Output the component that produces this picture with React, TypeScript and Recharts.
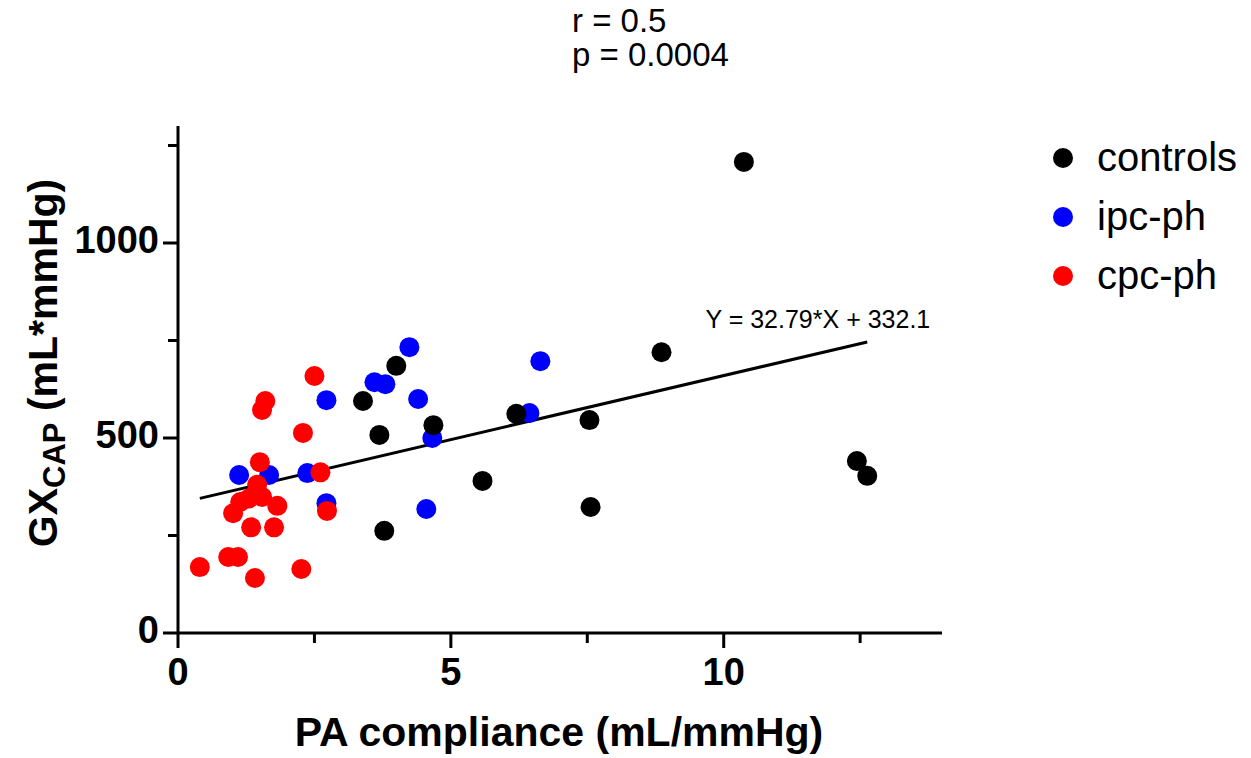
import React from 'react';
import { ScatterChart, Scatter, XAxis, YAxis, ReferenceLine, ReferenceDot, Legend } from 'recharts';

const FONT = '"Liberation Sans", Arial, Helvetica, sans-serif';

const controlsX = [10.37, 8.86, 3.39, 4.0, 3.69, 4.68, 6.2, 7.54, 5.58, 7.56, 3.78, 12.44, 12.63];
const controlsY = [1208, 720, 595, 685, 508, 533, 562, 546, 390, 323, 262, 441, 403];

const ipcX = [1.12, 1.67, 2.37, 2.72, 2.72, 3.6, 3.8, 4.24, 4.4, 4.66, 4.55, 6.44, 6.64];
const ipcY = [405, 405, 410, 333, 597, 643, 638, 733, 600, 500, 318, 564, 697];

const cpcX = [0.4, 0.92, 1.1, 1.41, 2.26, 1.01, 1.34, 1.76, 1.14, 1.3, 1.54, 1.82, 1.45, 1.5, 1.54, 1.6, 2.29, 2.5, 2.61, 2.73];
const cpcY = [169, 195, 195, 141, 164, 307, 271, 271, 336, 345, 349, 326, 380, 438, 572, 595, 513, 659, 412, 313];

const seriesNames = ['controls', 'ipc-ph', 'cpc-ph'];
const seriesColors = ['#000000', '#0000ff', '#ff0000'];

const xTicks = [0, 2.5, 5, 7.5, 10, 12.5];
const yTicks = [0, 250, 500, 750, 1000, 1250];
const xDomain = [0, 14];
const yDomain = [0, 1300];

const slope = 32.79;
const intercept = 332.1;
const equationLabel = 'Y = 32.79*X + 332.1';
const rLabel = 'r = 0.5';
const pLabel = 'p = 0.0004';

const toPoints = (xs: number[], ys: number[]) => xs.map((x, i) => ({ x, y: ys[i] }));
const controls = toPoints(controlsX, controlsY);
const ipc = toPoints(ipcX, ipcY);
const cpc = toPoints(cpcX, cpcY);

const allX = [...controlsX, ...ipcX, ...cpcX];
const xMin = Math.min(...allX);
const xMax = Math.max(...allX);

const dot = (color: string) => (p: any) => <circle cx={p.cx} cy={p.cy} r={10} fill={color} />;

const XTick = (props: any) => {
  const { x, y, payload } = props;
  const major = payload.value % 5 === 0;
  return (
    <g>
      <line x1={x} y1={y} x2={x} y2={y + (major ? 15 : 10)} stroke="#000" strokeWidth={3} />
      {major && (
        <text x={x} y={y + 52} textAnchor="middle" fontSize={38} fontWeight="bold" fontFamily={FONT} fill="#000">
          {payload.value}
        </text>
      )}
    </g>
  );
};

const YTick = (props: any) => {
  const { x, y, payload } = props;
  const major = payload.value % 500 === 0;
  return (
    <g>
      <line x1={x} y1={y} x2={x - (major ? 15 : 10)} y2={y} stroke="#000" strokeWidth={3} />
      {major && (
        <text x={x - 19} y={y + 10} textAnchor="end" fontSize={38} fontWeight="bold" fontFamily={FONT} fill="#000">
          {payload.value}
        </text>
      )}
    </g>
  );
};

const YLabel = () => (
  <text
    transform="translate(57, 363) rotate(-90)"
    textAnchor="middle"
    fontSize={41}
    fontWeight="bold"
    fontFamily={FONT}
    fill="#000"
  >
    GX<tspan fontSize={31} dy={8}>CAP</tspan>
    <tspan dy={-8}> (mL*mmHg)</tspan>
  </text>
);

const XLabel = (props: any) => {
  const vb = props.viewBox || {};
  return (
    <text
      x={vb.x + vb.width / 2 - 1}
      y={746}
      textAnchor="middle"
      fontSize={41}
      fontWeight="bold"
      fontFamily={FONT}
      fill="#000"
    >
      PA compliance (mL/mmHg)
    </text>
  );
};

const EqLabel = (props: any) => {
  const vb = props.viewBox || {};
  return (
    <text x={vb.x + 63} y={vb.y - 14} textAnchor="end" fontSize={25} fontFamily={FONT} fill="#000">
      {equationLabel}
    </text>
  );
};

const LegendContent = (props: any) => {
  const payload = (props.payload || []).slice().sort(
    (a: any, b: any) => seriesNames.indexOf(a.value) - seriesNames.indexOf(b.value)
  );
  return (
    <div style={{ fontFamily: FONT }}>
      {payload.map((item: any) => (
        <div key={item.value} style={{ display: 'flex', alignItems: 'center', height: 59 }}>
          <svg width={24} height={24} style={{ marginRight: 22 }}>
            <circle cx={12} cy={12} r={10} fill={item.color} />
          </svg>
          <span style={{ fontSize: 40, color: '#000' }}>{item.value}</span>
        </div>
      ))}
    </div>
  );
};

export default function App() {
  return (
    <div style={{ position: 'absolute', left: 0, top: 0, width: 1251, height: 758, background: '#fff', fontFamily: FONT }}>
      <div style={{ position: 'absolute', left: 572, top: 4, fontSize: 33, lineHeight: '34px', color: '#000', zIndex: 2 }}>
        <div>{rLabel}</div>
        <div>{pLabel}</div>
      </div>
      <ScatterChart width={1251} height={758} margin={{ top: 126, right: 309, bottom: 0, left: 0 }}>
        <XAxis
          type="number"
          dataKey="x"
          domain={xDomain}
          ticks={xTicks}
          interval={0}
          height={125}
          tickSize={0}
          tickMargin={0}
          tick={<XTick />}
          axisLine={{ stroke: '#000', strokeWidth: 3 }}
          allowDataOverflow
          label={{ content: <XLabel /> }}
        />
        <YAxis
          type="number"
          dataKey="y"
          domain={yDomain}
          ticks={yTicks}
          interval={0}
          width={178}
          tickSize={0}
          tickMargin={0}
          tick={<YTick />}
          axisLine={{ stroke: '#000', strokeWidth: 3 }}
          allowDataOverflow
          label={{ content: <YLabel /> }}
        />
        <Legend
          layout="vertical"
          align="center"
          verticalAlign="middle"
          wrapperStyle={{ left: 1051, top: 128, width: 200 }}
          content={<LegendContent />}
        />
        <ReferenceLine
          segment={[
            { x: xMin, y: slope * xMin + intercept },
            { x: xMax, y: slope * xMax + intercept },
          ]}
          stroke="#000"
          strokeWidth={3}
          ifOverflow="visible"
        />
        <ReferenceDot
          x={xMax}
          y={slope * xMax + intercept}
          r={0}
          fill="none"
          stroke="none"
          label={{ content: <EqLabel /> }}
        />
        <Scatter name="ipc-ph" data={ipc} fill={seriesColors[1]} shape={dot(seriesColors[1])} isAnimationActive={false} />
        <Scatter name="controls" data={controls} fill={seriesColors[0]} shape={dot(seriesColors[0])} isAnimationActive={false} />
        <Scatter name="cpc-ph" data={cpc} fill={seriesColors[2]} shape={dot(seriesColors[2])} isAnimationActive={false} />
      </ScatterChart>
    </div>
  );
}
